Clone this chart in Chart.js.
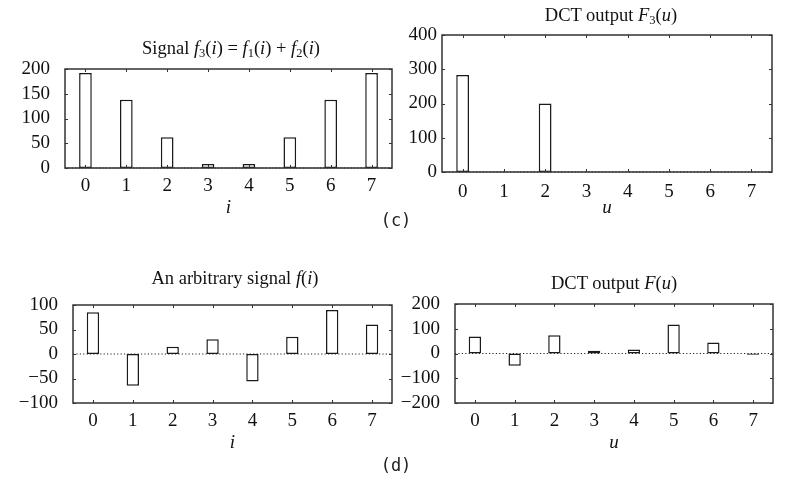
<!DOCTYPE html>
<html>
<head>
<meta charset="utf-8">
<script src="https://cdn.jsdelivr.net/npm/chart.js@4"></script>
<style>
  body { margin: 0; background: #fff; }
  #wrap { position: relative; width: 785px; height: 478px; overflow: hidden; }
  canvas { position: absolute; left: 0; top: 0; }
  .title { position: absolute; font-family: "Liberation Serif", serif; font-size: 18.5px; line-height: 20px; color: #111; white-space: nowrap; transform: translate(-50%, -50%); }
  .title sub { font-size: 12.5px; line-height: 0; vertical-align: -3px; }
  .tag { position: absolute; font-family: "DejaVu Sans Mono", monospace; font-size: 17px; line-height: 20px; color: #222; transform: translate(-50%, -50%); }
</style>
</head>
<body>
<div id="wrap">
  <canvas id="c1" width="785" height="478"></canvas>
  <canvas id="c2" width="785" height="478"></canvas>
  <canvas id="c3" width="785" height="478"></canvas>
  <canvas id="c4" width="785" height="478"></canvas>
  <div class="title" style="left:231px; top:48px;">Signal <i>f</i><sub>3</sub>(<i>i</i>) = <i>f</i><sub>1</sub>(<i>i</i>) + <i>f</i><sub>2</sub>(<i>i</i>)</div>
  <div class="title" style="left:611px; top:15px;">DCT output <i>F</i><sub>3</sub>(<i>u</i>)</div>
  <div class="title" style="left:235px; top:278px;">An arbitrary signal <i>f</i>(<i>i</i>)</div>
  <div class="title" style="left:614px; top:283px;">DCT output <i>F</i>(<i>u</i>)</div>
  <div class="tag" style="left:396px; top:220px;">(c)</div>
  <div class="tag" style="left:396px; top:465px;">(d)</div>
</div>
<script>
// data
const indexLabels = ['0', '1', '2', '3', '4', '5', '6', '7'];
const signalF3 = [192, 138, 62, 8, 8, 62, 138, 192];
const dctF3 = [283, 0, 200, 0, 0, 0, 0, 0];
const signalF = [85, -65, 15, 30, -56, 35, 90, 60];
const dctF = [69, -49, 74, 11, 16, 117, 44, -5];
const yTicksSignalF3 = [0, 50, 100, 150, 200];
const yTicksDctF3 = [0, 100, 200, 300, 400];
const yTicksSignalF = [-100, -50, 0, 50, 100];
const yTicksDctF = [-200, -100, 0, 100, 200];

const W = 785, H = 478;
const Y_W = 60;
const serif = { family: '"Liberation Serif", serif', size: 19, lineHeight: 1.2 };

// frame box, inward ticks, dotted zero line
const framePlugin = {
  id: 'frame',
  beforeDatasetsDraw(chart) {
    const { ctx, chartArea: a, scales: { y } } = chart;
    const y0 = y.getPixelForValue(0);
    ctx.save();
    ctx.strokeStyle = '#222';
    ctx.lineWidth = 1;
    ctx.setLineDash([1.2, 2.2]);
    ctx.beginPath();
    ctx.moveTo(a.left, y0);
    ctx.lineTo(a.right, y0);
    ctx.stroke();
    ctx.restore();
  },
  afterDatasetsDraw(chart) {
    const { ctx, chartArea: a, scales: { x, y } } = chart;
    ctx.save();
    ctx.strokeStyle = '#333';
    ctx.lineWidth = 1.5;
    ctx.strokeRect(a.left, a.top, a.right - a.left, a.bottom - a.top);
    ctx.lineWidth = 1;
    ctx.beginPath();
    x.ticks.forEach((t, i) => {
      const px = Math.round(x.getPixelForTick(i)) + 0.5;
      ctx.moveTo(px, a.bottom); ctx.lineTo(px, a.bottom - 3);
      ctx.moveTo(px, a.top); ctx.lineTo(px, a.top + 3);
    });
    y.ticks.forEach(t => {
      const py = Math.round(y.getPixelForValue(t.value)) + 0.5;
      ctx.moveTo(a.left, py); ctx.lineTo(a.left + 3, py);
      ctx.moveTo(a.right, py); ctx.lineTo(a.right - 3, py);
    });
    ctx.stroke();
    ctx.restore();
  }
};

function makeChart(id, values, yTicks, area, o) {
  new Chart(document.getElementById(id), {
    type: 'bar',
    data: {
      labels: indexLabels,
      datasets: [{
        data: values,
        backgroundColor: '#fff',
        borderColor: '#1a1a1a',
        borderWidth: 1.5,
        borderSkipped: false,
        barPercentage: 0.31,
        categoryPercentage: 1
      }]
    },
    options: {
      responsive: false,
      animation: false,
      events: [],
      layout: {
        padding: {
          left: area.left - Y_W,
          top: area.top,
          right: W - area.right,
          bottom: H - area.bottom - o.xH
        }
      },
      plugins: { legend: { display: false }, tooltip: { enabled: false } },
      scales: {
        x: {
          offset: true,
          grid: { display: false, drawTicks: false },
          border: { display: false },
          ticks: { padding: o.xPad, color: '#111', font: serif, maxRotation: 0, autoSkip: false },
          title: {
            display: true, text: o.xTitle, color: '#111', padding: 0,
            font: { family: '"Liberation Serif", serif', size: 19, style: 'italic', lineHeight: 1.2 }
          },
          afterFit(s) { s.height = o.xH; }
        },
        y: {
          min: yTicks[0],
          max: yTicks[yTicks.length - 1],
          grid: { display: false, drawTicks: false },
          border: { display: false },
          afterBuildTicks(s) { s.ticks = yTicks.map(v => ({ value: v })); },
          ticks: {
            autoSkip: false,
            padding: o.yPad,
            color: '#111',
            font: serif,
            callback: v => String(v).replace('-', '\u2212')
          },
          afterFit(s) { s.width = Y_W; }
        }
      }
    },
    plugins: [framePlugin]
  });
}

makeChart('c1', signalF3, yTicksSignalF3, { left: 65, top: 69, right: 392, bottom: 168 }, { xTitle: 'i', xH: 51, xPad: 7, yPad: 15 });
makeChart('c2', dctF3, yTicksDctF3, { left: 442, top: 35, right: 772, bottom: 172 }, { xTitle: 'u', xH: 47, xPad: 9, yPad: 5 });
makeChart('c3', signalF, yTicksSignalF, { left: 73, top: 305, right: 392, bottom: 403 }, { xTitle: 'i', xH: 51, xPad: 7, yPad: 15 });
makeChart('c4', dctF, yTicksDctF, { left: 455, top: 304, right: 773, bottom: 403 }, { xTitle: 'u', xH: 51, xPad: 7, yPad: 15 });
</script>
</body>
</html>
